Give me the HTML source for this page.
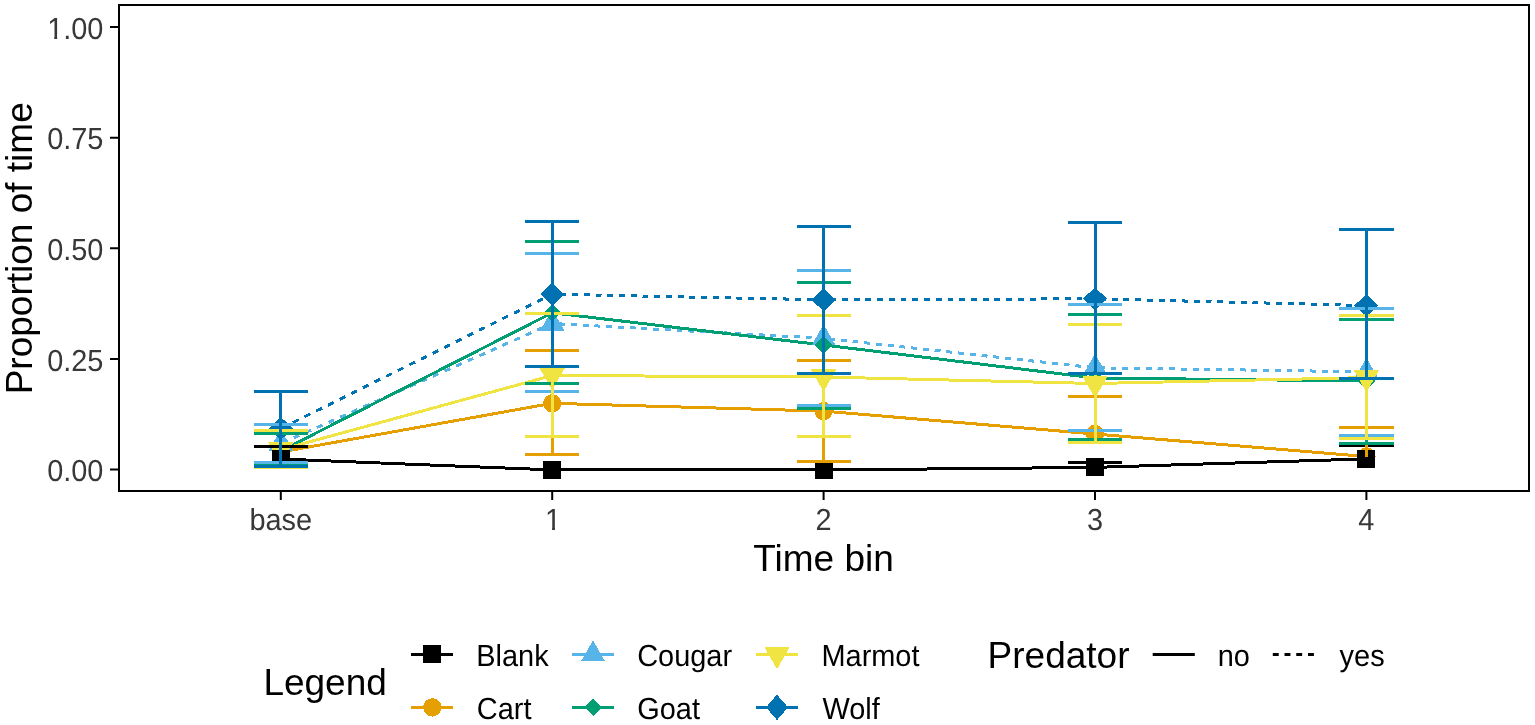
<!DOCTYPE html><html><head><meta charset="utf-8"><title>Proportion of time by time bin</title><style>
html,body{margin:0;padding:0;background:#fff;}svg{display:block;}text{font-family:"Liberation Sans",Arial,sans-serif;}
</style></head><body>
<svg width="1535" height="725" viewBox="0 0 1535 725">
<rect width="1535" height="725" fill="#fff"/>
<g fill="none" stroke-width="3" stroke-linejoin="round" shape-rendering="crispEdges">
<polyline points="280.80,459.00 552.20,469.90 823.60,470.00 1095.00,467.40 1366.40,458.90" stroke="#000000"/>
<polyline points="280.80,452.00 552.20,403.30 823.60,411.10 1095.00,434.00 1366.40,456.50" stroke="#E69F00"/>
<line x1="280.80" y1="443.50" x2="552.20" y2="323.50" stroke="#56B4E9" stroke-dasharray="6.232 6.451" stroke-dashoffset="11.262"/>
<line x1="552.20" y1="323.50" x2="823.60" y2="338.30" stroke="#56B4E9" stroke-dasharray="5.909 5.839" stroke-dashoffset="4.657"/>
<line x1="823.60" y1="338.30" x2="1095.00" y2="367.80" stroke="#56B4E9" stroke-dasharray="5.935 5.864" stroke-dashoffset="6.297"/>
<line x1="1095.00" y1="367.80" x2="1366.40" y2="371.80" stroke="#56B4E9" stroke-dasharray="5.901 5.831" stroke-dashoffset="7.871"/>
<polyline points="280.80,451.00 552.20,312.80 823.60,345.00 1095.00,378.00 1366.40,381.00" stroke="#009E73"/>
<polyline points="280.80,449.70 552.20,375.50 823.60,377.00 1095.00,383.50 1366.40,377.60" stroke="#F0E442"/>
<line x1="280.80" y1="428.50" x2="552.20" y2="294.20" stroke="#0072B2" stroke-dasharray="6.360 6.627" stroke-dashoffset="12.407"/>
<line x1="552.20" y1="294.20" x2="823.60" y2="299.80" stroke="#0072B2" stroke-dasharray="5.901 5.831" stroke-dashoffset="3.501"/>
<line x1="823.60" y1="299.80" x2="1095.00" y2="298.80" stroke="#0072B2" stroke-dasharray="5.900 5.830" stroke-dashoffset="5.110"/>
<line x1="1095.00" y1="298.80" x2="1366.40" y2="305.50" stroke="#0072B2" stroke-dasharray="5.902 5.832" stroke-dashoffset="6.722"/>
</g>
<g shape-rendering="crispEdges">
<circle cx="280.80" cy="452.00" r="9.15" fill="#E69F00"/>
<circle cx="552.20" cy="403.30" r="9.15" fill="#E69F00"/>
<circle cx="823.60" cy="411.10" r="9.15" fill="#E69F00"/>
<circle cx="1095.00" cy="434.00" r="9.15" fill="#E69F00"/>
<circle cx="1366.40" cy="456.50" r="9.15" fill="#E69F00"/>
<polygon points="280.80,429.50 292.90,450.50 268.70,450.50" fill="#56B4E9"/>
<polygon points="552.20,309.50 564.30,330.50 540.10,330.50" fill="#56B4E9"/>
<polygon points="823.60,324.30 835.70,345.30 811.50,345.30" fill="#56B4E9"/>
<polygon points="1095.00,353.80 1107.10,374.80 1082.90,374.80" fill="#56B4E9"/>
<polygon points="1366.40,357.80 1378.50,378.80 1354.30,378.80" fill="#56B4E9"/>
<polygon points="272.00,451.00 280.80,442.20 289.60,451.00 280.80,459.80" fill="#009E73"/>
<polygon points="543.40,312.80 552.20,304.00 561.00,312.80 552.20,321.60" fill="#009E73"/>
<polygon points="814.80,345.00 823.60,336.20 832.40,345.00 823.60,353.80" fill="#009E73"/>
<polygon points="1086.20,378.00 1095.00,369.20 1103.80,378.00 1095.00,386.80" fill="#009E73"/>
<polygon points="1357.60,381.00 1366.40,372.20 1375.20,381.00 1366.40,389.80" fill="#009E73"/>
<polygon points="267.90,441.90 293.70,441.90 280.80,464.50" fill="#F0E442"/>
<polygon points="539.30,367.70 565.10,367.70 552.20,390.30" fill="#F0E442"/>
<polygon points="810.70,369.20 836.50,369.20 823.60,391.80" fill="#F0E442"/>
<polygon points="1082.10,375.70 1107.90,375.70 1095.00,398.30" fill="#F0E442"/>
<polygon points="1353.50,369.80 1379.30,369.80 1366.40,392.40" fill="#F0E442"/>
<polygon points="268.80,428.50 280.80,416.90 292.80,428.50 280.80,440.10" fill="#0072B2"/>
<polygon points="540.20,294.20 552.20,282.60 564.20,294.20 552.20,305.80" fill="#0072B2"/>
<polygon points="811.60,299.80 823.60,288.20 835.60,299.80 823.60,311.40" fill="#0072B2"/>
<polygon points="1083.00,298.80 1095.00,287.20 1107.00,298.80 1095.00,310.40" fill="#0072B2"/>
<polygon points="1354.40,305.50 1366.40,293.90 1378.40,305.50 1366.40,317.10" fill="#0072B2"/>
<rect x="271.80" y="450.00" width="18.00" height="18.00" fill="#000000"/>
<rect x="543.20" y="460.90" width="18.00" height="18.00" fill="#000000"/>
<rect x="814.60" y="461.00" width="18.00" height="18.00" fill="#000000"/>
<rect x="1086.00" y="458.40" width="18.00" height="18.00" fill="#000000"/>
<rect x="1357.40" y="449.90" width="18.00" height="18.00" fill="#000000"/>
</g>
<g fill="none" stroke-width="3" shape-rendering="crispEdges">
<path d="M253.70,446.30H307.90M280.80,446.30V459.00" stroke="#000000"/>
<path d="M1067.90,462.20H1122.10M1095.00,462.20V467.40" stroke="#000000"/>
<path d="M1339.30,445.90H1393.50M1366.40,445.90V458.90" stroke="#000000"/>
<path d="M525.10,350.60H579.30M552.20,350.60V454.90M525.10,454.90H579.30" stroke="#E69F00"/>
<path d="M796.50,360.60H850.70M823.60,360.60V461.40M796.50,461.40H850.70" stroke="#E69F00"/>
<path d="M1067.90,396.00H1122.10M1095.00,396.00V434.00" stroke="#E69F00"/>
<path d="M1339.30,427.00H1393.50M1366.40,427.00V456.50" stroke="#E69F00"/>
<path d="M253.70,424.10H307.90M280.80,424.10V462.60M253.70,462.60H307.90" stroke="#56B4E9"/>
<path d="M525.10,253.80H579.30M552.20,253.80V391.60M525.10,391.60H579.30" stroke="#56B4E9"/>
<path d="M796.50,270.70H850.70M823.60,270.70V405.50M796.50,405.50H850.70" stroke="#56B4E9"/>
<path d="M1067.90,304.40H1122.10M1095.00,304.40V430.30M1067.90,430.30H1122.10" stroke="#56B4E9"/>
<path d="M1339.30,308.30H1393.50M1366.40,308.30V435.30M1339.30,435.30H1393.50" stroke="#56B4E9"/>
<path d="M253.70,433.40H307.90M280.80,433.40V465.00M253.70,465.00H307.90" stroke="#009E73"/>
<path d="M525.10,241.40H579.30M552.20,241.40V383.60M525.10,383.60H579.30" stroke="#009E73"/>
<path d="M796.50,282.50H850.70M823.60,282.50V408.00M796.50,408.00H850.70" stroke="#009E73"/>
<path d="M1067.90,314.70H1122.10M1095.00,314.70V439.90M1067.90,439.90H1122.10" stroke="#009E73"/>
<path d="M1339.30,319.90H1393.50M1366.40,319.90V443.30M1339.30,443.30H1393.50" stroke="#009E73"/>
<path d="M253.70,430.30H307.90M280.80,430.30V467.40M253.70,467.40H307.90" stroke="#F0E442"/>
<path d="M525.10,313.90H579.30M552.20,313.90V436.50M525.10,436.50H579.30" stroke="#F0E442"/>
<path d="M796.50,315.30H850.70M823.60,315.30V436.50M796.50,436.50H850.70" stroke="#F0E442"/>
<path d="M1067.90,324.30H1122.10M1095.00,324.30V442.40M1067.90,442.40H1122.10" stroke="#F0E442"/>
<path d="M1339.30,315.50H1393.50M1366.40,315.50V438.10M1339.30,438.10H1393.50" stroke="#F0E442"/>
<path d="M253.70,391.00H307.90M280.80,391.00V466.20M253.70,466.20H307.90" stroke="#0072B2"/>
<path d="M525.10,221.50H579.30M552.20,221.50V366.70M525.10,366.70H579.30" stroke="#0072B2"/>
<path d="M796.50,226.40H850.70M823.60,226.40V373.30M796.50,373.30H850.70" stroke="#0072B2"/>
<path d="M1067.90,222.90H1122.10M1095.00,222.90V373.50M1067.90,373.50H1122.10" stroke="#0072B2"/>
<path d="M1339.30,229.40H1393.50M1366.40,229.40V378.40M1339.30,378.40H1393.50" stroke="#0072B2"/>
</g>
<rect x="119" y="5" width="1410" height="486" fill="none" stroke="#000" stroke-width="2"/>
<path d="M110,469.5H118M110,358.9H118M110,248.3H118M110,137.7H118M110,27.1H118M280.8,492V500M552.2,492V500M823.6,492V500M1095.0,492V500M1366.4,492V500" stroke="#000" stroke-width="2" fill="none"/>
<defs>
<clipPath id="c1" clipPathUnits="userSpaceOnUse"><rect x="-50" y="-100" width="100" height="96.8"/><rect x="-0.955" y="-5" width="2.95" height="10"/></clipPath>
<clipPath id="c100" clipPathUnits="userSpaceOnUse"><rect x="-100" y="-100" width="200" height="96.8"/><rect x="-50.160" y="-5" width="2.95" height="10"/><rect x="-41.2" y="-100" width="100" height="200"/></clipPath>
</defs>
<g fill="#383838" font-size="29.5" text-rendering="geometricPrecision">
<text transform="translate(103.40,481.10) scale(0.98,1.03)" text-anchor="end">0.00</text>
<text transform="translate(103.40,370.50) scale(0.98,1.03)" text-anchor="end">0.25</text>
<text transform="translate(103.40,259.90) scale(0.98,1.03)" text-anchor="end">0.50</text>
<text transform="translate(103.40,149.30) scale(0.98,1.03)" text-anchor="end">0.75</text>
<text transform="translate(103.4,38.70) scale(0.98,1.03)" text-anchor="end" clip-path="url(#c100)">1.00</text>
<text transform="translate(280.80,529.70) scale(0.98,1.03)" text-anchor="middle">base</text>
<text transform="translate(553.00,529.7) scale(0.98,1.03)" text-anchor="middle" clip-path="url(#c1)">1</text>
<text transform="translate(823.60,529.70) scale(0.98,1.03)" text-anchor="middle">2</text>
<text transform="translate(1095.00,529.70) scale(0.98,1.03)" text-anchor="middle">3</text>
<text transform="translate(1366.40,529.70) scale(0.98,1.03)" text-anchor="middle">4</text>
</g>
<g fill="#000" font-size="37">
<text x="823.60" y="570.80" text-anchor="middle">Time bin</text>
<text transform="translate(32,248.3) rotate(-90)" text-anchor="middle">Proportion of time</text>
<text x="263.40" y="694.60">Legend</text>
<text x="987.60" y="668.40">Predator</text>
</g>
<g shape-rendering="crispEdges">
<path d="M410.7,654.4H452.7" stroke="#000000" stroke-width="3"/>
<rect x="422.70" y="645.40" width="18.00" height="18.00" fill="#000000"/>
<path d="M411.3,707.4H453.3" stroke="#E69F00" stroke-width="3"/>
<circle cx="432.30" cy="707.40" r="9.15" fill="#E69F00"/>
<path d="M572.0,654.4H614.0" stroke="#56B4E9" stroke-width="3"/>
<polygon points="593.00,640.40 605.10,661.40 580.90,661.40" fill="#56B4E9"/>
<path d="M572.4,707.4H614.4" stroke="#009E73" stroke-width="3"/>
<polygon points="584.60,707.40 593.40,698.60 602.20,707.40 593.40,716.20" fill="#009E73"/>
<path d="M756.0,654.4H798.0" stroke="#F0E442" stroke-width="3"/>
<polygon points="764.10,646.60 789.90,646.60 777.00,669.20" fill="#F0E442"/>
<path d="M756.0,707.4H798.0" stroke="#0072B2" stroke-width="3"/>
<polygon points="766.00,707.40 777.00,694.60 788.00,707.40 777.00,720.20" fill="#0072B2"/>
</g>
<g fill="#000" font-size="29.5" text-rendering="geometricPrecision">
<text transform="translate(476.30,665.60) scale(0.98,1.03)">Blank</text>
<text transform="translate(476.80,718.80) scale(0.98,1.03)">Cart</text>
<text transform="translate(637.20,665.60) scale(0.98,1.03)">Cougar</text>
<text transform="translate(637.30,718.80) scale(0.98,1.03)">Goat</text>
<text transform="translate(821.50,665.60) scale(0.98,1.03)">Marmot</text>
<text transform="translate(822.50,718.80) scale(0.98,1.03)">Wolf</text>
<text transform="translate(1217.70,665.90) scale(0.98,1.03)">no</text>
<text transform="translate(1339.60,665.90) scale(0.98,1.03)">yes</text>
</g>
<path d="M1152.7,654.6H1194.8" stroke="#000" stroke-width="3"/>
<path d="M1272.8,654.6H1314.4" stroke="#000" stroke-width="3" stroke-dasharray="5.9 5.83"/>
</svg></body></html>
